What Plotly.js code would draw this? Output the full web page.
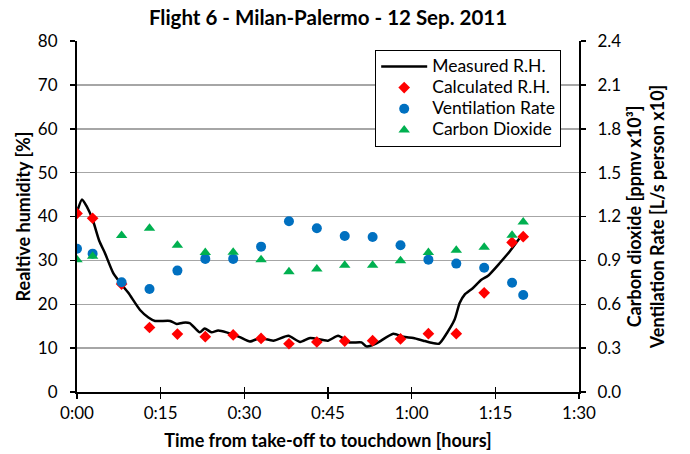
<!DOCTYPE html>
<html>
<head>
<meta charset="utf-8">
<script src="https://cdn.plot.ly/plotly-3.0.1.min.js"></script>
<style>
  html, body { margin: 0; padding: 0; background: #ffffff; }
  #chart { width: 690px; height: 454px; }
</style>
</head>
<body>
<div id="chart"></div>
<script>
// Measured relative humidity trace (minutes after take-off, %)
const measuredMinutes = [0, 0.9, 1.7, 2.8, 4.0, 5.0, 6.5, 8.0, 9.2, 11.3, 12.8, 14.0, 16.7, 17.9, 19.0, 20.2,
  22.0, 22.9, 24.1, 25.3, 26.8, 29.2, 31.0, 32.8, 35.2, 37.9, 40.0, 41.8, 45.0, 46.8, 48.9, 51.0, 51.9,
  53.7, 56.7, 58.5, 60.3, 62.1, 63.3, 64.9, 66.3, 67.7, 68.6, 69.5, 71.0, 72.5, 73.7, 75.8, 77.6, 79.3];
const measuredRH = [41.0, 43.9, 42.4, 39.3, 34.4, 31.7, 27.1, 24.5, 22.6, 18.7, 17.0, 16.2, 16.2, 15.5, 15.8, 15.7,
  13.6, 14.5, 13.6, 14.0, 13.6, 12.5, 11.5, 12.3, 11.7, 12.8, 11.4, 12.3, 11.7, 12.8, 11.3, 11.3, 10.4,
  11.1, 13.3, 12.6, 12.3, 11.7, 11.3, 11.0, 13.4, 16.5, 20.3, 22.2, 23.7, 25.6, 26.5, 29.4, 32.1, 35.0];

// Sampling times shared by the point series (minutes after take-off)
const sampleMinutes = [0, 2.8, 8, 13, 18, 23, 28, 33, 38, 43, 48, 53, 58, 63, 68, 73, 78, 80];
const calculatedRH = [40.7, 39.6, 24.6, 14.7, 13.2, 12.6, 13.0, 12.2, 11.0, 11.4, 11.6, 11.7, 12.1, 13.3, 13.3, 22.6, 34.1, 35.4];
const ventilationRate = [0.98, 0.946, 0.75, 0.704, 0.83, 0.91, 0.91, 0.994, 1.168, 1.12, 1.067, 1.06, 1.003, 0.905, 0.878, 0.85, 0.747, 0.663];
const carbonDioxide = [0.905, 0.928, 1.07, 1.12, 1.003, 0.953, 0.955, 0.905, 0.823, 0.841, 0.866, 0.866, 0.898, 0.953, 0.969, 0.99, 1.072, 1.163];

// Axis ticks
const timeTickVals = [0, 15, 30, 45, 60, 75, 90];
const timeTickText = ['0:00', '0:15', '0:30', '0:45', '1:00', '1:15', '1:30'];

const FONT = 'Lato, "Open Sans", sans-serif';
// legend entries are set a little larger than the row spacing implies
const legendLabel = (t) => '<span style="font-size:17.5px">' + t + '</span>';

const traces = [
  {
    name: legendLabel('Measured R.H.'), x: measuredMinutes, y: measuredRH, type: 'scatter', mode: 'lines',
    line: { color: '#000000', width: 2.5, shape: 'spline', smoothing: 0.6 }, xaxis: 'x', yaxis: 'y'
  },
  {
    name: legendLabel('Calculated R.H.'), x: sampleMinutes, y: calculatedRH, type: 'scatter', mode: 'markers',
    marker: { symbol: 'diamond', color: '#ff0000', size: 9 }, xaxis: 'x', yaxis: 'y'
  },
  {
    name: legendLabel('Ventilation Rate'), x: sampleMinutes, y: ventilationRate, type: 'scatter', mode: 'markers',
    marker: { symbol: 'circle', color: '#0070c0', size: 10 }, xaxis: 'x', yaxis: 'y2'
  },
  {
    name: legendLabel('Carbon Dioxide'), x: sampleMinutes, y: carbonDioxide, type: 'scatter', mode: 'markers',
    marker: { symbol: 'triangle-up', color: '#00b050', size: 10 }, xaxis: 'x', yaxis: 'y2'
  },
  // empty trace that activates the overlaid tick axis (ticks crossing the x axis line)
  { x: [0], y: [null], xaxis: 'x2', yaxis: 'y', showlegend: false, hoverinfo: 'skip', type: 'scatter', mode: 'markers' }
];

const layout = {
  width: 690, height: 454,
  margin: { l: 77, r: 111, t: 41, b: 62 },
  paper_bgcolor: '#ffffff', plot_bgcolor: '#ffffff',
  font: { family: FONT, size: 17, color: '#000000' },
  title: {
    text: '<b>Flight 6 - Milan-Palermo - 12 Sep. 2011</b>',
    font: { family: FONT, size: 20.5, color: '#000000' },
    xref: 'paper', x: 0.5, xanchor: 'center', yref: 'container', y: 0.96, yanchor: 'middle'
  },
  showlegend: true,
  legend: {
    x: 0.594, y: 0.975, xanchor: 'left', yanchor: 'top',
    bgcolor: '#ffffff', bordercolor: '#000000', borderwidth: 1,
    font: { family: FONT, size: 14, color: '#000000' },
    itemwidth: 46, tracegroupgap: 0
  },
  xaxis: {
    range: [0, 90], tickvals: timeTickVals, ticktext: timeTickText,
    showgrid: false, zeroline: false,
    showline: true, linecolor: '#000000', linewidth: 2,
    ticks: 'outside', ticklen: 5, tickwidth: 1.5, tickcolor: '#000000',
    tickfont: { family: FONT, size: 17 },
    title: { text: '<b>Time from take-off to touchdown [hours]</b>', font: { family: FONT, size: 18 }, standoff: 12 }
  },
  xaxis2: {
    overlaying: 'x', range: [0, 90], tickvals: timeTickVals, showticklabels: false,
    showgrid: false, zeroline: false, showline: false,
    ticks: 'inside', ticklen: 5, tickwidth: 1.5, tickcolor: '#000000', anchor: 'y', side: 'bottom'
  },
  yaxis: {
    range: [0, 80], dtick: 10, tick0: 0,
    showgrid: true, gridcolor: '#a6a6a6', gridwidth: 1.5, zeroline: false,
    showline: true, linecolor: '#000000', linewidth: 2,
    ticks: 'outside', ticklen: 5, tickwidth: 1.5, tickcolor: '#000000',
    tickfont: { family: FONT, size: 17 }, ticklabelstandoff: 9,
    title: { text: '<b>Realtive humidity [%]</b>', font: { family: FONT, size: 18 }, standoff: 3 }
  },
  yaxis2: {
    overlaying: 'y', side: 'right', anchor: 'x',
    range: [0, 2.4], dtick: 0.3, tick0: 0, tickformat: '.1f',
    showgrid: false, zeroline: false,
    showline: true, linecolor: '#000000', linewidth: 2,
    ticks: 'outside', ticklen: 5, tickwidth: 1.5, tickcolor: '#000000',
    tickfont: { family: FONT, size: 17 }, ticklabelstandoff: 8,
    title: {
      text: '<b>Carbon dioxide [ppmv x10³]<br>Ventilation Rate [L/s person x10]</b>',
      font: { family: FONT, size: 18 }, standoff: 8
    }
  }
};

Plotly.newPlot('chart', traces, layout, { displayModeBar: false, staticPlot: true });
</script>
</body>
</html>
